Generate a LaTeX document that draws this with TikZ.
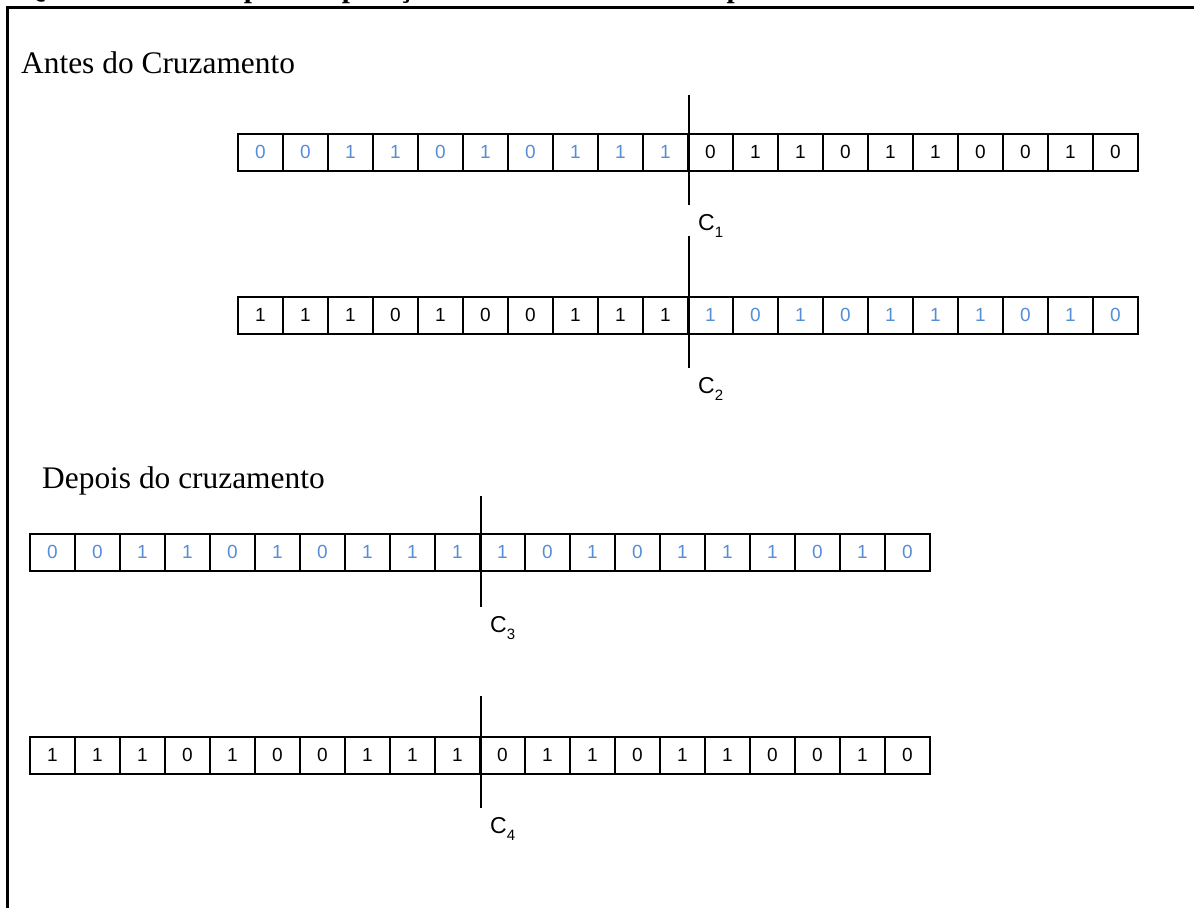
\documentclass[tikz,border=0pt]{standalone}
\usepackage{fontspec}
\setmainfont{Liberation Serif}
\newfontfamily\arialfont{Liberation Sans}
\usetikzlibrary{calc}
\definecolor{bitblue}{HTML}{558ED5}

\newcommand{\cutsub}[1]{\raisebox{-0.28em}{\fontsize{15}{15}\selectfont #1}}

\tikzset{
  cell/.style={draw=black, line width=2pt, minimum width=45pt, minimum height=37pt,
    inner sep=0pt, font=\arialfont\fontsize{19}{19}\selectfont},
  cutline/.style={line width=2pt},
  cutlabel/.style={anchor=north west, inner sep=0pt, font=\arialfont\fontsize{23}{23}\selectfont},
  heading/.style={anchor=base west, inner sep=0pt, font=\fontsize{31.4}{36}\selectfont},
  frameline/.style={line width=3pt}
}

% draws one chromosome: #1 row name, #2 left x, #3 centre y, #4 bits, #5..#6 range of blue genes
\newcommand{\chromosome}[6]{%
  \foreach \b [count=\i] in {#4} {
    \ifnum\i<#5 \def\bitcol{black}\else\ifnum\i>#6 \def\bitcol{black}\else\def\bitcol{bitblue}\fi\fi
    \node[cell, text=\bitcol] (#1c\i) at ({#2+45*(\i-0.5)},#3) {\b};
  }%
}

\begin{document}
\begin{tikzpicture}[x=1pt, y=-1pt]
  \useasboundingbox (0,0) rectangle (1194,908);

  % title and frame
  \node[anchor=base west, inner sep=0pt, font=\bfseries\fontsize{29.4}{30}\selectfont] (title) at (23,-3)
    {Quadro 2 – Exemplo de operação de cruzamento de um ponto};
  \coordinate (fA) at (7,7);
  \coordinate (fB) at (1194,7);
  \coordinate (fC) at (7,908);
  \draw[frameline] (fB) -- (fA) -- (fC);

  % headings
  \node[heading] (antes) at (21,73) {Antes do Cruzamento};
  \node[heading] (depois) at (42,488) {Depois do cruzamento};

  % parents
  \chromosome{ra}{238}{152}{0,0,1,1,0,1,0,1,1,1,0,1,1,0,1,1,0,0,1,0}{1}{10}
  \chromosome{rb}{238}{315}{1,1,1,0,1,0,0,1,1,1,1,0,1,0,1,1,1,0,1,0}{11}{20}
  % offspring
  \chromosome{rc}{30}{552}{0,0,1,1,0,1,0,1,1,1,1,0,1,0,1,1,1,0,1,0}{1}{20}
  \chromosome{rd}{30}{755}{1,1,1,0,1,0,0,1,1,1,0,1,1,0,1,1,0,0,1,0}{21}{20}

  % cut points
  \coordinate (ka) at ($(rac10.north east)+(0,-38)$);
  \coordinate (kb) at ($(rac10.south east)+(0,33)$);
  \coordinate (kc) at ($(rbc10.north east)+(0,-60)$);
  \coordinate (kd) at ($(rbc10.south east)+(0,33)$);
  \coordinate (ke) at ($(rcc10.north east)+(0,-37)$);
  \coordinate (kf) at ($(rcc10.south east)+(0,35)$);
  \coordinate (kg) at ($(rdc10.north east)+(0,-40)$);
  \coordinate (kh) at ($(rdc10.south east)+(0,33)$);
  \draw[cutline] (ka) -- (kb);
  \draw[cutline] (kc) -- (kd);
  \draw[cutline] (ke) -- (kf);
  \draw[cutline] (kg) -- (kh);

  \node[cutlabel] (c1) at ($(kb)+(9,10)$) {C\cutsub{1}};
  \node[cutlabel] (c2) at ($(kd)+(9,10)$) {C\cutsub{2}};
  \node[cutlabel] (c3) at ($(kf)+(9,10)$) {C\cutsub{3}};
  \node[cutlabel] (c4) at ($(kh)+(9,10)$) {C\cutsub{4}};
\end{tikzpicture}
\end{document}
